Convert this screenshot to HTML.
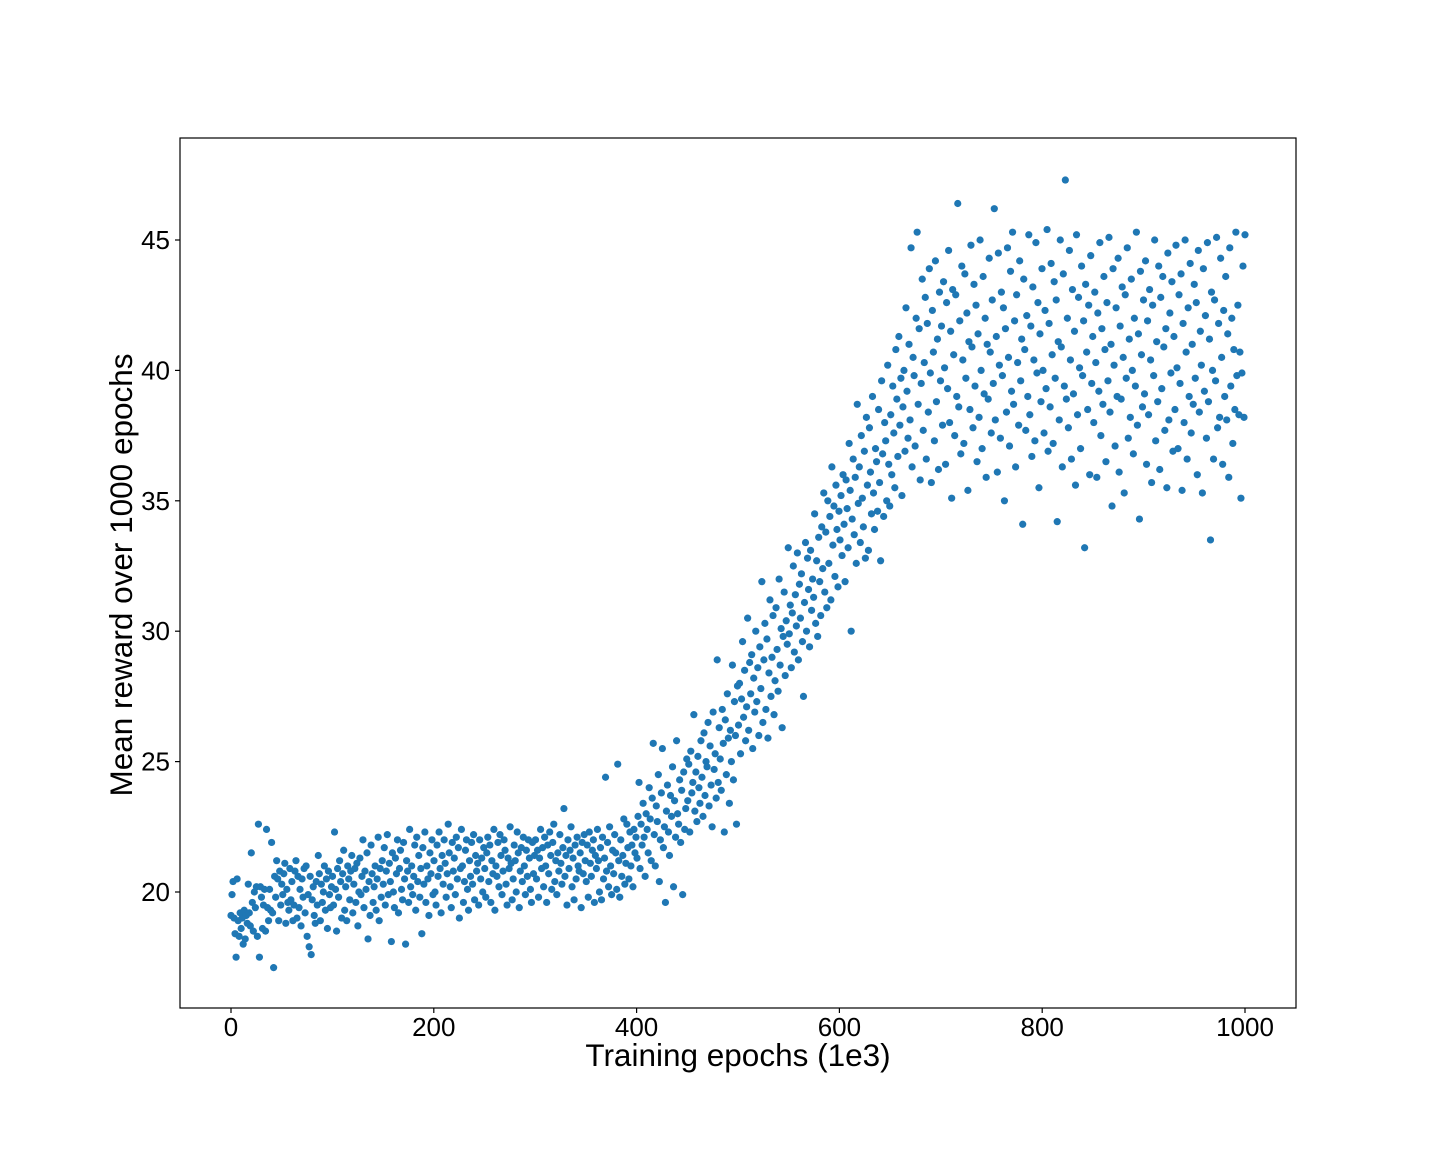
<!DOCTYPE html>
<html><head><meta charset="utf-8"><style>
html,body{margin:0;padding:0;background:#fff;}
svg{display:block;font-family:"Liberation Sans","DejaVu Sans",sans-serif;}
</style></head><body>
<svg id="chart" width="1440" height="1152" viewBox="0 0 1440 1152" xmlns="http://www.w3.org/2000/svg">
<rect width="1440" height="1152" fill="#fff"/>
<g id="points"></g>
<rect x="180" y="138" width="1116" height="870" fill="none" stroke="#000" stroke-width="1.2"/>
<g id="axes"></g>
<text x="738" y="1066" font-size="31.5" text-anchor="middle">Training epochs (1e3)</text>
<text transform="translate(132,575) rotate(-90)" font-size="31.5" text-anchor="middle">Mean reward over 1000 epochs</text>
</svg>
<script>
const xTicks = [0, 200, 400, 600, 800, 1000];
const yTicks = [20, 25, 30, 35, 40, 45];
const rewards = [
19.1,19.9,20.4,19.0,18.4,17.5,20.5,18.9,18.3,19.2,18.6,19.0,18.0,19.3,18.2,19.1,18.8,20.3,19.2,18.7,21.5,19.6,18.5,20.0,19.4,20.2,18.3,22.6,17.5,20.2,19.8,18.6,19.5,20.1,18.5,22.4,19.4,18.9,20.1,19.3,21.9,19.2,17.1,20.6,19.8,21.2,20.5,18.9,20.8,19.5,
20.3,19.9,20.7,21.1,18.8,20.1,19.6,19.3,20.9,19.7,20.4,18.9,19.5,20.8,21.2,19.0,20.6,19.4,20.1,18.7,20.5,19.8,20.9,19.2,21.0,18.3,19.9,17.9,20.6,17.6,19.7,20.2,19.1,18.8,20.4,19.5,21.4,20.7,18.9,20.3,19.6,20.0,21.0,19.3,20.5,18.6,20.8,19.9,19.4,20.2,
20.6,19.5,22.3,20.1,18.5,20.9,19.8,21.2,20.4,19.0,20.7,21.6,19.3,20.2,18.9,21.0,20.5,19.7,20.8,21.4,19.2,20.3,20.9,19.6,21.1,18.7,20.0,21.3,19.9,20.6,22.0,19.4,20.8,20.1,21.5,18.2,20.4,19.1,21.8,20.7,19.6,20.2,21.0,19.3,20.5,22.1,18.9,20.9,19.8,21.2,
20.3,21.7,19.5,20.8,22.2,19.9,21.1,20.4,18.1,21.5,20.0,19.4,21.3,20.7,22.0,19.2,20.9,21.6,20.1,19.7,21.9,20.5,18.0,21.2,20.8,19.6,22.4,20.2,21.0,19.9,20.6,21.8,19.3,22.1,20.4,21.4,19.8,20.9,18.4,21.7,20.3,22.3,19.6,21.0,20.5,19.1,21.5,20.7,22.0,19.9,
21.2,20.0,19.5,21.8,20.6,22.3,20.9,19.2,21.4,20.3,22.0,21.1,19.8,20.7,22.6,21.5,20.2,19.4,21.9,20.8,21.3,19.9,22.1,20.5,21.7,19.0,20.9,22.4,21.0,19.6,20.4,21.6,22.0,20.1,19.3,21.2,20.6,21.9,20.3,22.2,19.7,21.4,20.8,21.1,19.5,22.0,20.5,21.3,20.0,21.7,
20.9,19.8,21.5,22.1,20.4,21.8,19.6,21.2,20.7,22.4,19.3,21.0,20.6,21.9,20.2,22.2,21.4,19.9,20.8,22.0,21.6,20.3,19.5,21.3,20.9,22.5,21.1,19.7,20.5,21.8,21.2,20.0,22.3,21.5,19.4,20.8,21.7,20.4,22.1,21.0,19.9,21.6,20.6,22.0,21.3,20.1,19.6,21.9,20.7,21.4,
22.0,20.5,21.6,19.8,21.3,22.4,20.9,21.7,20.2,22.1,21.0,19.6,21.8,20.7,22.3,21.4,20.1,21.9,22.6,20.4,21.2,19.9,21.5,20.8,22.2,21.1,20.3,21.7,23.2,20.6,21.4,19.5,22.0,20.9,21.6,22.5,20.2,21.3,19.7,21.8,20.5,22.1,21.0,20.8,21.5,19.4,21.9,20.7,22.2,21.2,
20.4,21.8,19.8,22.3,21.1,20.6,21.6,22.0,19.6,21.4,20.9,22.4,21.2,20.0,21.7,19.7,22.1,20.5,21.3,24.4,20.8,21.9,20.2,22.5,21.0,19.9,21.6,20.7,22.2,21.5,20.1,24.9,21.2,19.8,22.0,20.6,21.4,22.8,20.3,21.1,22.6,21.7,20.5,22.3,21.0,21.8,20.2,22.4,21.5,22.1,
21.3,22.9,24.2,20.9,22.6,21.8,23.4,22.1,20.6,23.0,22.4,21.5,24.0,22.8,21.2,23.6,25.7,22.2,21.0,23.3,22.7,24.5,20.4,22.0,23.8,25.5,21.7,22.5,19.6,23.1,24.1,22.3,21.4,23.7,22.9,24.8,20.2,23.5,22.1,25.8,23.0,22.6,24.3,21.9,23.9,19.9,24.6,22.4,23.2,25.1,
23.5,24.9,22.3,25.4,23.8,24.2,26.8,23.1,24.6,22.7,25.2,24.0,23.4,25.8,24.4,22.9,26.1,23.7,25.0,24.8,26.5,23.3,25.6,24.1,22.5,26.9,24.7,25.3,23.6,28.9,24.2,26.3,25.1,23.9,27.0,25.7,22.3,26.6,24.5,27.6,25.9,23.4,26.2,25.0,28.7,24.3,27.3,26.0,22.6,27.9,
26.4,28.0,25.3,27.4,29.6,26.7,28.5,25.8,27.1,30.5,26.2,28.8,27.6,29.1,25.5,28.2,26.9,30.0,27.3,28.6,26.0,29.4,27.8,31.9,26.5,28.9,30.3,27.0,29.7,25.9,28.4,31.2,27.5,29.0,30.6,26.8,28.1,30.9,29.3,27.7,32.0,28.7,30.1,26.3,29.8,31.5,28.3,30.4,29.5,33.2,
29.9,31.0,28.6,30.7,32.5,29.2,31.4,30.2,33.0,28.9,31.8,30.5,32.2,29.6,27.5,31.1,33.4,30.0,32.8,31.6,29.4,33.1,30.8,32.0,31.3,34.5,30.3,32.7,29.8,33.6,31.9,30.6,34.0,32.4,35.3,31.5,33.8,30.9,35.0,32.6,34.4,31.2,36.3,33.3,34.8,32.1,35.6,33.9,31.7,34.6,
33.5,35.2,32.9,36.0,34.1,31.9,35.8,34.7,33.2,37.2,35.4,30.0,34.3,36.6,33.7,35.9,32.6,38.7,34.9,36.3,33.4,37.5,35.1,34.0,36.9,32.8,38.2,35.6,33.1,37.8,36.1,34.5,39.0,35.3,33.9,37.0,36.5,34.6,38.5,35.7,32.7,39.6,36.8,34.4,38.0,37.3,35.0,40.2,36.4,34.8,
38.3,36.0,39.4,37.6,35.5,40.8,38.9,36.7,41.3,37.9,39.7,35.2,38.6,40.0,36.9,42.4,39.2,37.4,41.0,38.1,44.7,36.3,40.5,39.8,37.1,42.0,45.3,38.7,41.6,35.8,39.5,43.5,37.7,40.3,42.8,36.6,41.8,38.4,43.9,39.9,35.7,42.3,40.7,37.3,44.2,38.8,41.2,36.2,43.0,39.6,
41.7,37.9,43.4,40.1,36.4,42.6,39.3,44.6,38.0,41.5,35.1,43.1,40.6,37.5,42.9,39.0,46.4,38.6,41.9,36.8,44.0,40.4,37.2,43.7,39.7,42.2,35.4,41.1,38.5,44.8,40.9,37.8,43.3,39.4,42.5,36.5,41.4,38.2,45.0,40.0,37.0,43.6,39.1,42.0,35.9,41.0,38.9,44.3,40.7,37.6,
42.7,39.5,46.2,38.1,41.3,36.1,44.5,40.2,37.4,43.0,39.8,42.4,35.0,41.6,38.4,44.7,40.5,37.1,43.8,39.2,45.3,38.7,41.9,36.3,42.9,40.3,37.9,44.2,39.6,41.2,34.1,43.5,40.8,37.7,42.1,39.0,45.2,38.3,41.7,36.7,43.2,40.4,37.3,44.9,39.9,42.6,35.5,41.4,38.8,43.9,
40.0,37.6,42.3,39.3,45.4,36.9,41.8,38.6,44.1,40.6,37.2,43.4,39.7,42.7,34.2,41.1,38.1,45.0,40.9,36.3,43.7,39.4,47.3,38.9,42.0,37.8,44.6,40.4,36.6,43.1,39.1,41.5,35.6,45.2,38.3,42.8,40.1,37.0,44.0,39.8,41.9,33.2,43.3,40.7,38.5,42.5,36.0,44.4,39.5,41.3,
38.0,43.0,40.3,35.9,42.2,39.2,44.9,37.5,41.6,38.7,43.6,40.8,36.5,42.6,39.6,45.1,38.4,41.0,34.8,43.9,40.2,37.1,42.4,39.0,44.3,36.1,41.7,38.9,43.2,40.5,35.3,42.9,39.7,44.7,37.4,41.2,38.2,43.5,40.0,36.8,42.0,39.4,45.3,37.9,41.4,34.3,43.8,40.6,38.6,42.7,
39.1,44.2,36.4,41.9,38.3,43.1,40.4,35.7,42.5,39.8,45.0,37.3,41.1,38.8,44.0,36.2,42.8,39.3,43.6,40.9,37.7,41.6,35.5,44.5,38.1,42.2,39.9,43.4,36.9,41.3,38.5,44.8,40.1,37.0,42.9,39.5,43.7,35.4,41.8,38.0,45.0,40.7,36.6,42.4,39.0,44.1,37.6,41.0,38.7,43.3,
39.7,42.6,36.0,44.6,38.4,41.5,40.2,35.3,43.9,39.2,42.1,37.4,44.9,38.8,41.2,33.5,43.0,40.0,36.6,42.7,39.6,45.1,37.8,41.8,38.2,44.3,40.5,36.4,42.3,39.0,43.6,38.1,41.4,35.9,44.7,39.4,42.0,37.2,40.8,38.5,45.3,39.8,42.5,38.3,40.7,35.1,39.9,44.0,38.2,45.2
];

const NS = "http://www.w3.org/2000/svg";
function xScale(v){ return 231 + (v - 0) * (1245 - 231) / 1000; }
function yScale(v){ return 892 - (v - 20) * (892 - 240) / 25; }

const pts = document.getElementById('points');
const stepX = 1000 / (rewards.length - 1);
rewards.forEach(function(r, i){
  const c = document.createElementNS(NS, 'circle');
  c.setAttribute('cx', xScale(i * stepX).toFixed(2));
  c.setAttribute('cy', yScale(r).toFixed(2));
  c.setAttribute('r', '3.6');
  c.setAttribute('fill', '#1f77b4');
  
  
  pts.appendChild(c);
});

const axes = document.getElementById('axes');
xTicks.forEach(function(t){
  const x = xScale(t);
  const l = document.createElementNS(NS, 'line');
  l.setAttribute('x1', x); l.setAttribute('x2', x);
  l.setAttribute('y1', 1008); l.setAttribute('y2', 1013);
  l.setAttribute('stroke', '#000'); l.setAttribute('stroke-width', '1.2');
  
  
  axes.appendChild(l);
  const tx = document.createElementNS(NS, 'text');
  tx.setAttribute('x', x); tx.setAttribute('y', 1036);
  tx.setAttribute('font-size', '26'); tx.setAttribute('text-anchor', 'middle');
  tx.textContent = t;
  
  
  axes.appendChild(tx);
});
yTicks.forEach(function(t){
  const y = yScale(t);
  const l = document.createElementNS(NS, 'line');
  l.setAttribute('x1', 175); l.setAttribute('x2', 180);
  l.setAttribute('y1', y); l.setAttribute('y2', y);
  l.setAttribute('stroke', '#000'); l.setAttribute('stroke-width', '1.2');
  
  
  axes.appendChild(l);
  const tx = document.createElementNS(NS, 'text');
  tx.setAttribute('x', 170); tx.setAttribute('y', y + 9);
  tx.setAttribute('font-size', '26'); tx.setAttribute('text-anchor', 'end');
  tx.textContent = t;
  
  
  axes.appendChild(tx);
});
</script>
</body></html>
